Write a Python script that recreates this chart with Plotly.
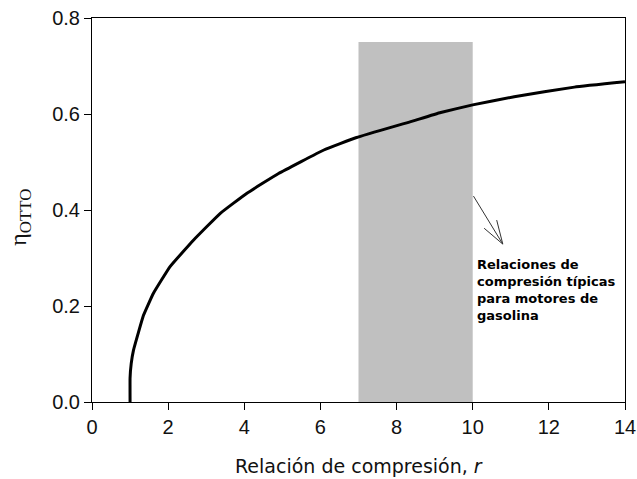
import plotly.graph_objects as go

# Data
r_values = [1.0, 1.0, 1.03, 1.09, 1.22, 1.35, 1.61, 2.05, 2.67, 3.37, 4.07, 4.9,
            6.09, 6.95, 8.37, 9.16, 10.0, 11.09, 12.67, 14.0]
eta_values = [0.0, 0.05, 0.08, 0.108, 0.145, 0.18, 0.226, 0.282, 0.3375, 0.393,
              0.435, 0.476, 0.525, 0.551, 0.584, 0.603, 0.619, 0.636, 0.656, 0.667]
band_r = [7.0, 10.0]          # typical compression ratios for gasoline engines
band_top = 0.75
x_ticks = [0, 2, 4, 6, 8, 10, 12, 14]
y_ticks = [0.0, 0.2, 0.4, 0.6, 0.8]
y_tick_labels = ["0.0", "0.2", "0.4", "0.6", "0.8"]
note_text = "Relaciones de<br>compresión típicas<br>para motores de<br>gasolina"
x_title = "Relación de compresión, <i>r</i>"
y_title = "η<sub>OTTO</sub>"

fig = go.Figure()
fig.add_trace(go.Scatter(x=r_values, y=eta_values, mode="lines",
                         line=dict(color="black", width=3, shape="spline",
                                   smoothing=0.3),
                         showlegend=False, hoverinfo="skip"))

fig.add_shape(type="rect", xref="x", yref="y", x0=band_r[0], x1=band_r[1],
              y0=0, y1=band_top, fillcolor="#c0c0c0", line=dict(width=0),
              layer="below")

# pointer arrow with an open V head
arrow_tail = (10.02, 0.429)
arrow_tip = (10.79, 0.329)
arrow_arms = [(10.30, 0.362), (10.63, 0.379)]
arrow_line = dict(color="#333333", width=1)
fig.add_shape(type="line", xref="x", yref="y", x0=arrow_tail[0], y0=arrow_tail[1],
              x1=arrow_tip[0], y1=arrow_tip[1], line=arrow_line)
for ax_, ay_ in arrow_arms:
    fig.add_shape(type="line", xref="x", yref="y", x0=ax_, y0=ay_,
                  x1=arrow_tip[0], y1=arrow_tip[1], line=arrow_line)

fig.add_annotation(x=10.05, y=0.233, xref="x", yref="y", text="<b>" + note_text + "</b>",
                   showarrow=False, xanchor="left", yanchor="middle", align="left",
                   font=dict(family="DejaVu Sans", size=13, color="black"))

fig.add_annotation(x=0.5, y=-0.167, xref="paper", yref="paper", text=x_title,
                   showarrow=False, xanchor="center", yanchor="middle",
                   font=dict(family="DejaVu Sans", size=19, color="#111"))
fig.add_annotation(x=-0.135, y=0.48, xref="paper", yref="paper", text=y_title,
                   showarrow=False, xanchor="center", yanchor="middle", textangle=-90,
                   font=dict(family="Liberation Serif, Times New Roman", size=24,
                             color="#111"))

axis_common = dict(showgrid=False, zeroline=False, showline=True, linecolor="black",
                   linewidth=1, mirror=True, ticks="outside", ticklen=7,
                   tickcolor="black", automargin=False,
                   tickfont=dict(family="Liberation Sans, Arial", size=20,
                                 color="#111"))
fig.update_xaxes(range=[0, 14], tickvals=x_ticks, **axis_common)
fig.update_yaxes(range=[0, 0.8], tickvals=y_ticks, ticktext=y_tick_labels,
                 **axis_common)

fig.update_layout(width=637, height=479, margin=dict(l=92, r=12, t=18, b=77),
                  plot_bgcolor="white", paper_bgcolor="white")

fig.write_html("out.html")
